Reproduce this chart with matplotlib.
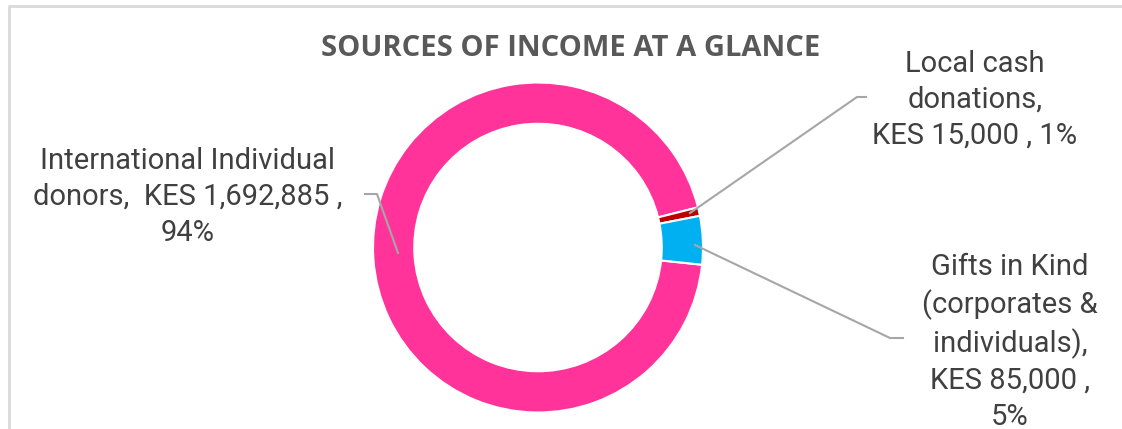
import matplotlib
matplotlib.use("Agg")
import matplotlib.pyplot as plt

# data
sources = ["International Individual donors", "Local cash donations",
           "Gifts in Kind (corporates & individuals)"]
amounts = [1692885, 15000, 85000]
shares = ["94%", "1%", "5%"]
label_texts = [
    "International Individual\ndonors,  KES 1,692,885 ,\n94%",
    "Local cash\ndonations,\nKES 15,000 , 1%",
    "Gifts in Kind\n(corporates &\nindividuals),\nKES 85,000 ,\n5%",
]
colors = ["#FF3399", "#C00000", "#00B0F0"]

W, H = 1122, 429
fig = plt.figure(figsize=(W / 100, H / 100), dpi=100)
ax = fig.add_axes([0, 0, 1, 1])
ax.set_xlim(0, W)
ax.set_ylim(0, H)
ax.set_aspect("equal")
ax.axis("off")


def py(y):
    # image pixel row -> axes y
    return H - y


# frame of the chart area
ax.plot([9, 9, W + 5], [py(H + 5), py(6), py(6)], color="#D9D9D9", lw=2,
        solid_capstyle="butt")

cx, cy, r = 538, 247.5, 165
ax.pie(amounts, colors=colors, startangle=-6, counterclock=False,
       center=(cx, py(cy)), radius=r,
       wedgeprops=dict(width=r * 0.25, edgecolor="white", linewidth=1.5))
ax.set_xlim(0, W)
ax.set_ylim(0, H)

ax.text(571, py(48), "SOURCES OF INCOME AT A GLANCE", ha="center", va="center",
        fontsize=21, fontweight="bold", color="#595959", family="Open Sans")

lc = "#A6A6A6"
leaders = [
    [(398, 253), (377, 194), (365, 194)],
    [(690, 213), (857, 97), (866, 97)],
    [(695, 245), (890, 338), (903, 338)],
]
for pts in leaders:
    ax.plot([p[0] for p in pts], [py(p[1]) for p in pts], color=lc, lw=1.5)

label_pos = [(188, 197), (975, 100), (1010, 342)]
for txt, (x, y) in zip(label_texts, label_pos):
    ax.text(x, py(y), txt, ha="center", va="center", multialignment="center",
            fontsize=21, color="#404040", family="Roboto", linespacing=1.35)

fig.savefig("out.png", dpi=100)
